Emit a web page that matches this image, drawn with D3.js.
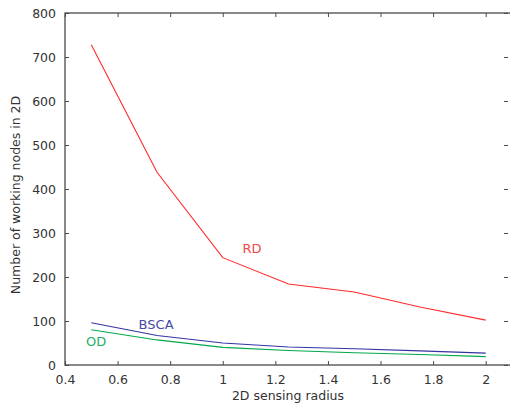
<!DOCTYPE html>
<html><head><meta charset="utf-8">
<script src="https://cdn.jsdelivr.net/npm/d3@7"></script>
<style>
html,body{margin:0;padding:0;background:#fff;}
svg{display:block;}
text{font-family:"DejaVu Sans",sans-serif;}
</style></head>
<body>
<script>
const radius = [0.5, 0.75, 1.0, 1.25, 1.5, 1.75, 2.0];
const rd   = [728, 438, 244, 184, 166, 132, 102];
const bsca = [96, 67, 50, 41, 37, 32, 27];
const od   = [80, 57, 40, 33, 28, 24, 19];
const xTicks = [0.4, 0.6, 0.8, 1.0, 1.2, 1.4, 1.6, 1.8, 2.0];
const yTicks = [0, 100, 200, 300, 400, 500, 600, 700, 800];
const series = [
  {name: "RD", values: rd, color: "#ff2a2a", label: "#f04848", lx: 1.075, ly: 253},
  {name: "BSCA", values: bsca, color: "#3434a4", label: "#4848a8", lx: 0.68, ly: 329},
  {name: "OD", values: od, color: "#00a84a", label: "#22b060", lx: 0.48, ly: 346}
];

const W = 510, H = 405;
const L = 65, T = 13, R = 512, B = 365;
const svg = d3.select("body").append("svg").attr("width", W).attr("height", H);
const x = d3.scaleLinear().domain([0.4, 2.1]).range([L, R]);
const y = d3.scaleLinear().domain([0, 800]).range([B, T]);
const axisColor = "#4a4a4a";
const fs = "12.5px";

// frame
svg.append("rect").attr("x", L).attr("y", T).attr("width", R - L).attr("height", B - T)
  .attr("fill", "none").attr("stroke", axisColor).attr("stroke-width", 1.3);

function styleAxis(g){
  g.select(".domain").remove();
  g.selectAll(".tick line").attr("stroke", axisColor);
  g.selectAll(".tick text").attr("fill", "#333").style("font-size", fs)
   .style("font-family", "'DejaVu Sans',sans-serif");
}
const fmt = d => d3.format("~g")(d);
svg.append("g").attr("transform", `translate(0,${B})`)
  .call(d3.axisBottom(x).tickValues(xTicks).tickFormat(fmt).tickSizeInner(-4).tickPadding(10))
  .call(styleAxis);
svg.append("g").attr("transform", `translate(0,${T})`)
  .call(d3.axisTop(x).tickValues(xTicks).tickFormat("").tickSizeInner(-4))
  .call(styleAxis);
svg.append("g").attr("transform", `translate(${L},0)`)
  .call(d3.axisLeft(y).tickValues(yTicks).tickFormat(fmt).tickSizeInner(-4).tickPadding(9))
  .call(styleAxis);
svg.append("g").attr("transform", `translate(${R - 4},0)`)
  .call(d3.axisRight(y).tickValues(yTicks).tickFormat("").tickSizeInner(-4))
  .call(styleAxis);

const line = d3.line().x((d, i) => x(radius[i])).y(d => y(d));
series.forEach(s => {
  svg.append("path").datum(s.values).attr("d", line)
    .attr("fill", "none").attr("stroke", s.color).attr("stroke-width", 1.1);
  svg.append("text").attr("x", x(s.lx)).attr("y", s.ly)
    .attr("fill", s.label).style("font-size", "13px").text(s.name);
});

svg.append("text").attr("x", 288).attr("y", 400).attr("text-anchor", "middle")
  .attr("fill", "#333").style("font-size", fs).text("2D sensing radius");
svg.append("text").attr("transform", "translate(20,195) rotate(-90)").attr("text-anchor", "middle")
  .attr("fill", "#333").style("font-size", fs).text("Number of working nodes in 2D");
</script>
</body></html>
